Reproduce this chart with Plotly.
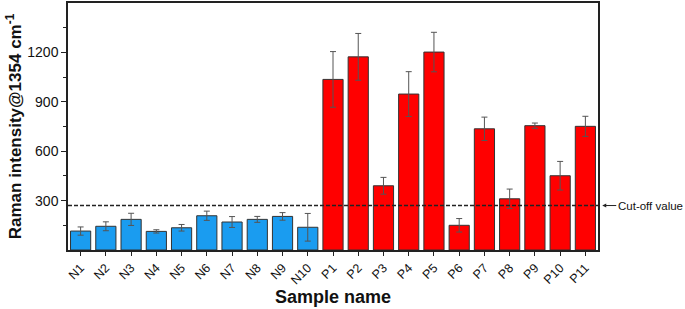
import plotly.graph_objects as go

neg_names = ["N1", "N2", "N3", "N4", "N5", "N6", "N7", "N8", "N9", "N10"]
neg_values = [115, 144, 186, 113, 135, 208, 170, 186, 204, 138]
neg_errors = [25, 27, 37, 10, 20, 28, 33, 18, 23, 84]

pos_names = ["P1", "P2", "P3", "P4", "P5", "P6", "P7", "P8", "P9", "P10", "P11"]
pos_values = [1036, 1173, 390, 947, 1202, 150, 736, 311, 755, 451, 751]
pos_errors = [169, 142, 51, 136, 120, 41, 71, 59, 16, 87, 61]

cutoff_value = 270
y_ticks = [300, 600, 900, 1200]

font_family = "Liberation Sans, Arial, sans-serif"

fig = go.Figure()
fig.add_trace(go.Bar(
    x=neg_names, y=neg_values,
    marker=dict(color="#1a9cf0", line=dict(color="#333333", width=1)),
    error_y=dict(type="data", array=neg_errors, color="#555555", thickness=1, width=3),
    showlegend=False,
))
fig.add_trace(go.Bar(
    x=pos_names, y=pos_values,
    marker=dict(color="#ff0000", line=dict(color="#333333", width=1)),
    error_y=dict(type="data", array=pos_errors, color="#555555", thickness=1, width=3),
    showlegend=False,
))

fig.add_shape(type="line", xref="paper", yref="y", x0=0, x1=1,
              y0=cutoff_value, y1=cutoff_value,
              line=dict(color="#222222", width=1.5, dash="4px,2px"))

fig.add_annotation(xref="paper", yref="y", x=1.008, y=cutoff_value,
                   text="Cut-off value", showarrow=True, ax=14, ay=0,
                   arrowhead=2, arrowsize=0.8, arrowwidth=1, arrowcolor="#222222",
                   xanchor="left", font=dict(size=11.5, color="#111111", family=font_family))

fig.update_layout(
    width=685, height=309,
    margin=dict(l=68, r=87, t=3, b=59),
    plot_bgcolor="white", paper_bgcolor="white",
    bargap=0.2,
    font=dict(family=font_family, color="#111111"),
    xaxis=dict(
        tickangle=-45, tickfont=dict(size=12.5), automargin=False,
        ticks="outside", ticklen=4, tickcolor="#222222",
        showline=True, linecolor="#222222", linewidth=1.5, mirror=True,
        title=dict(text="<b>Sample name</b>", font=dict(size=18), standoff=4),
        showgrid=False,
    ),
    yaxis=dict(
        range=[0, 1500], tickvals=y_ticks, tickfont=dict(size=14), automargin=False,
        ticks="outside", ticklen=5, tickcolor="#222222",
        minor=dict(tickvals=[150, 450, 750, 1050, 1350], ticks="outside", ticklen=3, tickcolor="#222222"),
        showline=True, linecolor="#222222", linewidth=1.5, mirror=True,
        title=dict(text="<b>Raman intensity@1354 cm<sup>-1</sup></b>", font=dict(size=17), standoff=1),
        showgrid=False, zeroline=False,
    ),
)

fig.write_html("out.html", config={"displayModeBar": False},
               post_script="document.body.style.margin='0';")
